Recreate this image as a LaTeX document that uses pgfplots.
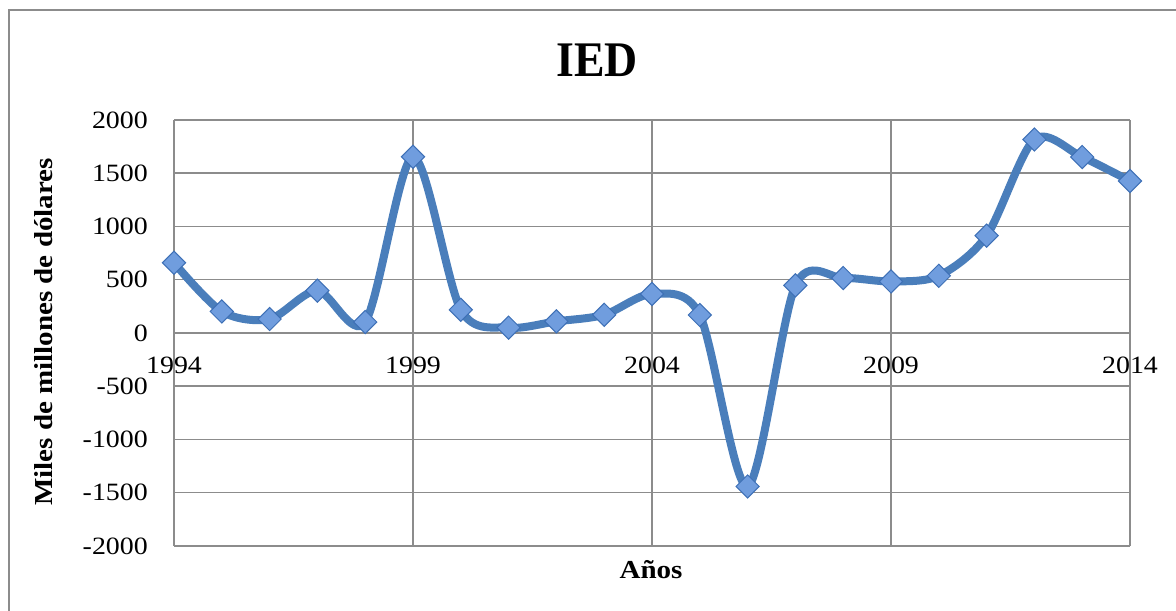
\documentclass[border=0pt]{standalone}
\usepackage{fontspec}
\setmainfont{Liberation Serif}[FakeStretch=1.12]
\newfontfamily\titlefont{Liberation Serif}[FakeStretch=0.92]
\usepackage{pgfplots}
\pgfplotsset{compat=1.18}
\definecolor{lineblue}{RGB}{74,126,187}
\definecolor{markfill}{RGB}{112,157,222}
\definecolor{markdraw}{RGB}{62,112,182}
\definecolor{gridgray}{RGB}{140,140,140}
\begin{document}
\begin{tikzpicture}[x=1bp,y=1bp]
\useasboundingbox (0,0) rectangle (1176,611);
\draw[gridgray, line width=2bp] (9,-5) -- (9,601) -- (1180,601);
\begin{axis}[
  at={(174bp,65bp)}, anchor=south west,
  scale only axis, width=956bp, height=426bp,
  xmin=1994, xmax=2014, ymin=-2000, ymax=2000,
  enlargelimits=false, clip=false,
  axis x line*=middle, axis y line*=left,
  axis line style={gridgray, line width=1.5bp},
  hide obscured x ticks=false, hide obscured y ticks=false,
  xtick={1994,1999,2004,2009,2014},
  ytick={-2000,-1500,-1000,-500,0,500,1000,1500,2000},
  grid=major,
  major grid style={gridgray, line width=1.5bp},
  major tick length=0pt,
  /pgf/number format/assume math mode=true,
  /pgf/number format/1000 sep={},
  tick label style={font=\fontsize{25}{30}\selectfont, inner sep=0pt},
  xticklabel style={anchor=north},
  yticklabel style={anchor=east},
  xticklabel shift=24bp,
  yticklabel shift=26bp,
]
\addplot[lineblue, line width=8bp, smooth, tension=0.5,
  mark=square*, mark size=8.2bp,
  mark options={rotate=45, fill=markfill, draw=markdraw, line width=1bp, solid}]
coordinates {
(1994,660) (1995,202) (1996,131) (1997,398) (1998,103)
(1999,1655) (2000,218) (2001,50) (2002,109) (2003,171)
(2004,366) (2005,169) (2006,-1441) (2007,447) (2008,516)
(2009,484) (2010,537) (2011,914) (2012,1817) (2013,1652)
(2014,1427)
};
\end{axis}
\node[font=\titlefont\fontsize{50}{56}\selectfont\bfseries] at (597,551) {IED};
\node[font=\fontsize{26}{30}\selectfont\bfseries, rotate=90] at (44,279) {Miles de millones de dólares};
\node[font=\fontsize{26}{30}\selectfont\bfseries] at (651,41) {Años};
\end{tikzpicture}
\end{document}
